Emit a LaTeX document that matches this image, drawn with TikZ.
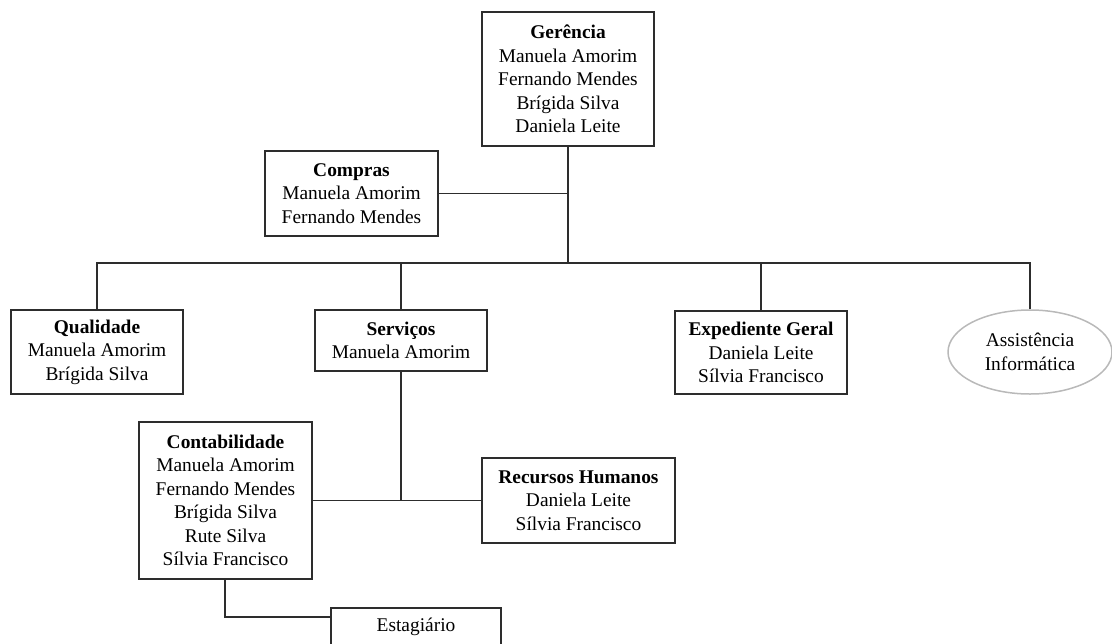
\documentclass[tikz,border=0pt]{standalone}
\usepackage{fontspec}
\setmainfont{Liberation Serif}
\usetikzlibrary{shapes.geometric}
\definecolor{contorno}{RGB}{45,45,45}
\definecolor{cinzento}{RGB}{185,185,185}

\begin{document}
\begin{tikzpicture}[x=0.5pt,y=-0.5pt,
  caixa/.style={draw=contorno,line width=0.75pt,align=center,inner sep=0pt,
    font=\fontsize{9.7}{11.75}\selectfont},
  ligacao/.style={draw=contorno,line width=0.75pt}]

\useasboundingbox (0,0) rectangle (1112,643);

\node[caixa,minimum width=86pt,minimum height=67pt] (gerencia) at (568,79)
  {\textbf{Gerência}\\Manuela Amorim\\Fernando Mendes\\Brígida Silva\\Daniela Leite};
\node[caixa,minimum width=86.5pt,minimum height=42.5pt] (compras) at (351.5,193.5)
  {\textbf{Compras}\\Manuela Amorim\\Fernando Mendes};

\node[caixa,minimum width=86pt,minimum height=42pt] (qualidade) at (97,352)
  {\textbf{Qualidade}\\Manuela Amorim\\Brígida Silva};
\node[caixa,minimum width=86pt,minimum height=30.5pt] (servicos) at (401,340.5)
  {\textbf{Serviços}\\Manuela Amorim};
\node[caixa,minimum width=86pt,minimum height=41.5pt] (expediente) at (761,352.5)
  {\textbf{Expediente Geral}\\Daniela Leite\\Sílvia Francisco};
\node[caixa,ellipse,draw=cinzento,minimum width=82pt,minimum height=42pt] (assistencia) at (1030,352)
  {Assistência\\Informática};

\node[caixa,minimum width=86.5pt,minimum height=78.5pt] (contabilidade) at (225.5,500.5)
  {\textbf{Contabilidade}\\Manuela Amorim\\Fernando Mendes\\Brígida Silva\\Rute Silva\\Sílvia Francisco};
\node[caixa,minimum width=96.5pt,minimum height=42.5pt] (recursos) at (578.5,500.5)
  {\textbf{Recursos Humanos}\\Daniela Leite\\Sílvia Francisco};
\node[caixa,minimum width=85pt,minimum height=19pt] (estagiario) at (416,627)
  {Estagiário};

% ligacoes
\coordinate (barra) at (568,263);
\coordinate (juncao) at (401,500.5);
\coordinate (estag) at (225,617);

\draw[ligacao] (gerencia.south) -- (barra);
\draw[ligacao] (compras.east) -- (compras.east -| barra);
\draw[ligacao] (qualidade.north) |- (barra);
\draw[ligacao] (assistencia.north) |- (barra);
\draw[ligacao] (servicos.north) -- (servicos.north |- barra);
\draw[ligacao] (expediente.north) -- (expediente.north |- barra);

\draw[ligacao] (servicos.south) -- (juncao);
\draw[ligacao] (contabilidade.east) -- (recursos.west);
\draw[ligacao] (contabilidade.south -| estag) -- (estag) -- (estagiario.west |- estag);

\end{tikzpicture}
\end{document}
